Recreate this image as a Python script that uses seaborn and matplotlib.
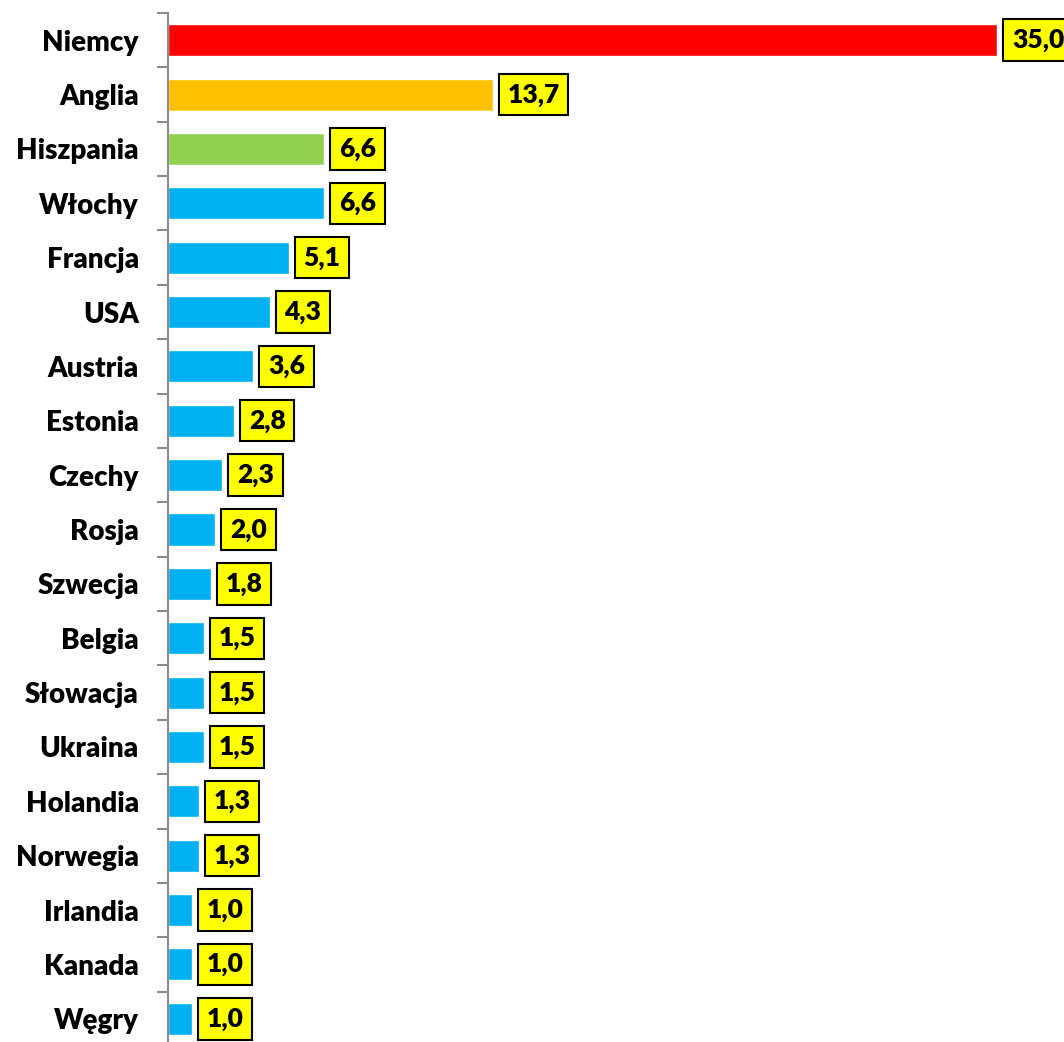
import matplotlib
matplotlib.use("Agg")
import matplotlib.pyplot as plt
import seaborn as sns
import numpy as np

countries = ["Niemcy", "Anglia", "Hiszpania", "Włochy", "Francja", "USA", "Austria",
             "Estonia", "Czechy", "Rosja", "Szwecja", "Belgia", "Słowacja", "Ukraina",
             "Holandia", "Norwegia", "Irlandia", "Kanada", "Węgry"]
values = [35.0, 13.7, 6.6, 6.6, 5.1, 4.3, 3.6, 2.8, 2.3, 2.0, 1.8, 1.5, 1.5, 1.5,
          1.3, 1.3, 1.0, 1.0, 1.0]
bar_colors = ["#FF0000", "#FFC000", "#92D050"] + ["#00B0F0"] * 16

sns.set_style("white")
plt.rcParams['font.family'] = ['Lato', 'DejaVu Sans']
plt.rcParams['text.color'] = 'black'
plt.rcParams['ytick.color'] = 'black'

fig = plt.figure(figsize=(10.64, 10.42), dpi=100)
ax = fig.add_axes([168 / 1064, -4 / 1042, 1 - 168 / 1064, 1 - 9 / 1042])

sns.barplot(x=values, y=countries, hue=countries, palette=bar_colors,
            legend=False, width=0.59, saturation=1, ax=ax)

ax.set_xlim(0, 896 / 23.69)
ax.set_ylim(len(countries) - 0.5, -0.5)

for i, v in enumerate(values):
    ax.text(v + 0.62, i, f"{v:.1f}".replace(".", ","), ha="left", va="center",
            fontsize=19, fontweight="heavy", color="black",
            bbox=dict(boxstyle="square,pad=0.33", fc="#FFFF00", ec="black", lw=1.5))

for s in ["top", "right", "bottom"]:
    ax.spines[s].set_visible(False)
ax.spines["left"].set_color("#8C8C8C")
ax.spines["left"].set_linewidth(1.5)

ax.set_xticks([])
ax.set_yticks(np.arange(-0.5, len(countries), 1), minor=True)
ax.tick_params(axis="y", which="minor", length=8, width=1.5, color="#8C8C8C", left=True)
ax.tick_params(axis="y", which="major", length=0, pad=21)
for lab in ax.get_yticklabels():
    lab.set_fontsize(20)
    lab.set_fontweight("heavy")
    lab.set_color("black")
ax.set_xlabel("")
ax.set_ylabel("")

fig.savefig("out.png", dpi=100)
